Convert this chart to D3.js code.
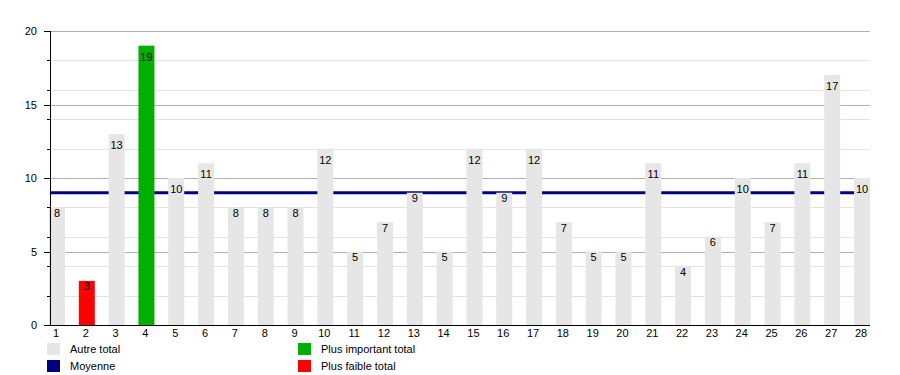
<!DOCTYPE html>
<html>
<head>
<meta charset="utf-8">
<script src="https://cdn.jsdelivr.net/npm/d3@7"></script>
<style>
  body { margin: 0; background: #fff; }
  text { font-family: "Liberation Sans", Arial, sans-serif; font-size: 11px; fill: #000; }
</style>
</head>
<body>
<div id="chart"></div>
<script>
// data
var categories = ["1","2","3","4","5","6","7","8","9","10","11","12","13","14",
                  "15","16","17","18","19","20","21","22","23","24","25","26","27","28"];
var totals = [8,3,13,19,10,11,8,8,8,12,5,7,9,5,12,9,12,7,5,5,11,4,6,10,7,11,17,10];
var majorTicks = [0,5,10,15,20];
var minorTicks = [2,4,6,8,12,14,16,18];
var legendLabels = ["Autre total","Moyenne","Plus important total","Plus faible total"];

var svg_width = 900, svg_height = 375;
var svg = d3.select("#chart").append("svg")
  .attr("width", svg_width)
  .attr("height", svg_height);

var plotLeft = 50, plotRight = 870, plotTop = 31, plotBottom = 325;

var x = d3.scaleBand()
  .domain(categories)
  .range([49, plotRight])
  .paddingInner(0.464)
  .paddingOuter(0);

var y = d3.scaleLinear()
  .domain([0, 20])
  .range([plotBottom, plotTop]);

var maxV = d3.max(totals), minV = d3.min(totals);
var mean = d3.mean(totals);

function gy(d) { return Math.round(y(d)) + 0.5; }

// gridlines
svg.append("g").selectAll("line")
  .data(minorTicks)
  .enter().append("line")
    .attr("x1", plotLeft).attr("x2", plotRight)
    .attr("y1", gy).attr("y2", gy)
    .attr("stroke", "#e2e2e2");
svg.append("g").selectAll("line")
  .data(majorTicks.slice(1))
  .enter().append("line")
    .attr("x1", plotLeft).attr("x2", plotRight)
    .attr("y1", gy).attr("y2", gy)
    .attr("stroke", "#b0b0b0");

// mean line
svg.append("line")
  .attr("x1", plotLeft).attr("x2", plotRight)
  .attr("y1", y(mean)).attr("y2", y(mean))
  .attr("stroke", "#000080")
  .attr("stroke-width", 3);

// bars
var bars = svg.append("g").selectAll("g")
  .data(totals)
  .enter().append("g");

bars.append("rect")
  .attr("x", function(d, i) { return x(categories[i]); })
  .attr("width", x.bandwidth())
  .attr("y", function(d) { return y(d); })
  .attr("height", function(d) { return plotBottom - y(d); })
  .attr("fill", function(d) {
    if (d == maxV) return "#00b000";
    if (d == minV) return "#ff0000";
    return "#e6e6e6";
  });

bars.append("text")
  .attr("x", function(d, i) { return x(categories[i]) + x.bandwidth() / 2; })
  .attr("y", function(d) { return y(d) + 5.5 * String(d).length + 4; })
  .attr("text-anchor", "middle")
  .text(function(d) { return d; });

// y axis
var yAxis = svg.append("g");
yAxis.append("line")
  .attr("x1", plotLeft + 0.5).attr("x2", plotLeft + 0.5)
  .attr("y1", plotTop).attr("y2", plotBottom)
  .attr("stroke", "#000");
yAxis.append("g").selectAll("line")
  .data(majorTicks)
  .enter().append("line")
    .attr("x1", plotLeft - 6).attr("x2", plotLeft)
    .attr("y1", gy).attr("y2", gy)
    .attr("stroke", "#000");
yAxis.append("g").selectAll("line")
  .data(minorTicks)
  .enter().append("line")
    .attr("x1", plotLeft - 3).attr("x2", plotLeft)
    .attr("y1", gy).attr("y2", gy)
    .attr("stroke", "#000");
yAxis.append("g").selectAll("text")
  .data(majorTicks)
  .enter().append("text")
    .attr("x", 37)
    .attr("y", function(d) { return y(d) + 4; })
    .attr("text-anchor", "end")
    .text(function(d) { return d; });

// x axis
svg.append("line")
  .attr("x1", plotLeft).attr("x2", plotRight)
  .attr("y1", plotBottom + 0.5).attr("y2", plotBottom + 0.5)
  .attr("stroke", "#000");
svg.append("g").selectAll("text")
  .data(categories)
  .enter().append("text")
    .attr("x", function(d) { return x(d) + x.bandwidth() / 2 - 1; })
    .attr("y", 337)
    .attr("text-anchor", "middle")
    .text(function(d) { return d; });

// legend
var legendColors = ["#e6e6e6", "#000080", "#00b000", "#ff0000"];
var legendPos = [[47, 343], [47, 360], [298, 343], [298, 360]];
var legend = svg.append("g").selectAll("g")
  .data(legendLabels)
  .enter().append("g")
    .attr("transform", function(d, i) { return "translate(" + legendPos[i][0] + "," + legendPos[i][1] + ")"; });
legend.append("rect")
  .attr("width", 13).attr("height", 12)
  .attr("fill", function(d, i) { return legendColors[i]; });
legend.append("text")
  .attr("x", 23)
  .attr("y", 10)
  .text(function(d) { return d; });
</script>
</body>
</html>
